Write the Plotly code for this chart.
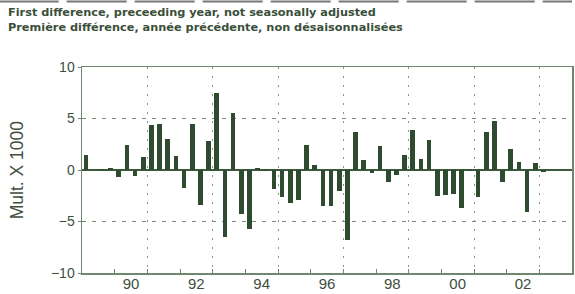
import plotly.graph_objects as go

# Quarterly first differences (thousands), 1989Q1 .. 2003Q1
years = list(range(1989, 2004))
values = [
    1.45, 0.0, 0.05, 0.2,      # 1989
    -0.65, 2.4, -0.55, 1.25,   # 1990
    4.35, 4.5, 3.0, 1.35,      # 1991
    -1.7, 4.45, -3.4, 2.8,     # 1992
    7.45, -6.5, 5.5, -4.3,     # 1993
    -5.7, 0.15, -0.1, -1.85,   # 1994
    -2.65, -3.2, -2.9, 2.4,    # 1995
    0.45, -3.5, -3.45, -2.05,  # 1996
    -6.8, 3.7, 1.0, -0.25,     # 1997
    2.3, -1.2, -0.5, 1.5,      # 1998
    3.9, 1.1, 2.9, -2.55,      # 1999
    -2.4, -2.3, -3.7, -0.1,    # 2000
    -2.6, 3.65, 4.75, -1.15,   # 2001
    2.05, 0.75, -4.1, 0.65,    # 2002
    -0.15,                     # 2003
]
# bar centres: year + quarter midpoint
quarters = [y + (q + 0.5) / 4 for y in years for q in range(4)][:len(values)]

label_years = [1990.5, 1992.5, 1994.5, 1996.5, 1998.5, 2000.5, 2002.5]
label_text = ["90", "92", "94", "96", "98", "00", "02"]
grid_years = [1991, 1993, 1995, 1997, 1999, 2001, 2003]
tick_years = list(range(1989, 2005))
y_ticks = [-10, -5, 0, 5, 10]

title1 = "First difference, preceeding year, not seasonally adjusted"
title2 = "Première différence, année précédente, non désaisonnalisées"
ytitle = "Mult. X 1000"

FONT = "Liberation Sans, Arial, sans-serif"
TFONT = "DejaVu Sans, Liberation Sans, sans-serif"
TXT = "#3e4f3e"
AX = "#6f866f"
BAR = "#2f4b2f"

fig = go.Figure()
fig.add_trace(go.Bar(x=quarters, y=values, width=0.14,
                     marker=dict(color=BAR, line=dict(width=0)),
                     showlegend=False, hoverinfo="skip"))
# invisible trace on the label axis
fig.add_trace(go.Scatter(x=[1989, 2004], y=[0, 0], xaxis="x2", mode="none",
                         showlegend=False, hoverinfo="skip"))

fig.update_layout(
    width=575, height=294,
    margin=dict(l=82, r=1, t=67, b=21),
    paper_bgcolor="white", plot_bgcolor="white",
    font=dict(family=FONT, color=TXT, size=12),
    bargap=0,
    xaxis=dict(range=[1989, 2004], tickmode="array", tickvals=grid_years,
               showticklabels=False, ticks="inside", ticklen=4, tickcolor=AX,
               showgrid=True, gridcolor="#8a968a", griddash="2px,7px", gridwidth=1,
               minor=dict(tickmode="array", tickvals=tick_years, ticks="inside",
                          ticklen=4, tickcolor=AX, showgrid=False),
               showline=True, linecolor=AX, linewidth=1.5, mirror=True,
               zeroline=False, fixedrange=True),
    xaxis2=dict(range=[1989, 2004], overlaying="x", side="bottom",
                tickmode="array", tickvals=label_years, ticktext=label_text,
                ticks="", showgrid=False, showline=False, zeroline=False,
                tickfont=dict(size=15, color=TXT, family=FONT), fixedrange=True),
    yaxis=dict(range=[-10, 10], tickmode="array", tickvals=y_ticks,
               ticks="outside", ticklen=3, tickcolor=AX,
               tickfont=dict(size=14, color=TXT, family=FONT),
               showgrid=True, gridcolor="#7a887a", griddash="4px,6px", gridwidth=1,
               zeroline=True, zerolinecolor="#3c5a3c", zerolinewidth=1.5,
               showline=True, linecolor=AX, linewidth=1.5, mirror=True,
               fixedrange=True),
    annotations=[
        dict(text="<b>" + title1 + "</b>", xref="paper", yref="paper",
             x=-0.155, y=1.263, xanchor="left", yanchor="middle", showarrow=False,
             font=dict(size=11.3, color="#3a4f3a", family=TFONT)),
        dict(text="<b>" + title2 + "</b>", xref="paper", yref="paper",
             x=-0.155, y=1.192, xanchor="left", yanchor="middle", showarrow=False,
             font=dict(size=11.3, color="#3a4f3a", family=TFONT)),
        dict(text=ytitle, xref="paper", yref="paper", x=-0.132, y=0.5,
             xanchor="center", yanchor="middle", textangle=-90, showarrow=False,
             font=dict(size=17.5, color=TXT, family=FONT)),
    ],
    shapes=[
        dict(type="line", xref="paper", yref="paper", x0=-0.17, x1=1.0,
             y0=1.318, y1=1.318, line=dict(color="#777777", width=2, dash="60px,8px")),
    ],
)

fig.write_html("out.html", config={"displayModeBar": False, "staticPlot": True})
# remove the browser's default body margin so the figure sits at the page origin
with open("out.html", encoding="utf-8") as f:
    html = f.read()
html = html.replace("<head>", "<head><style>body{margin:0;}</style>", 1)
with open("out.html", "w", encoding="utf-8") as f:
    f.write(html)
